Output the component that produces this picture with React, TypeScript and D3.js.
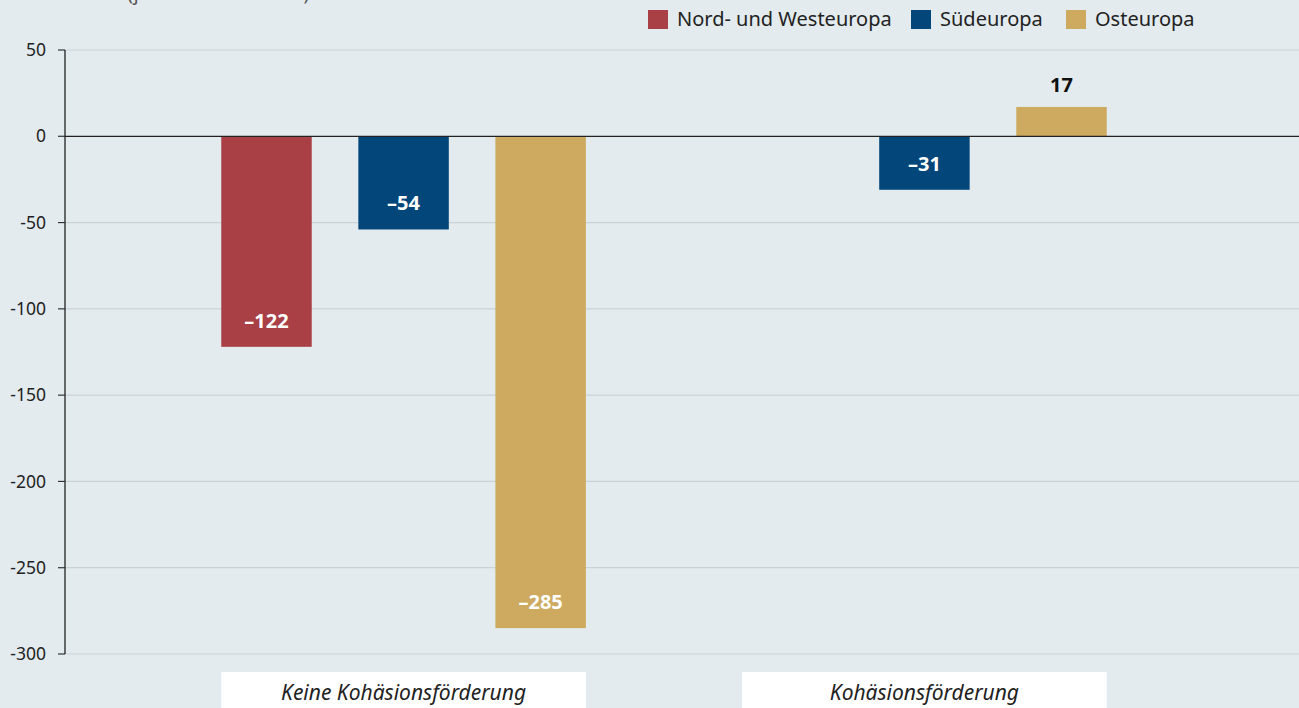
import React from 'react';
import * as d3 from 'd3';

// Categories and series
const groups = ['Keine Kohäsionsförderung', 'Kohäsionsförderung'];
const regions = ['Nord- und Westeuropa', 'Südeuropa', 'Osteuropa'];
const colors = ['#a84046', '#03467a', '#cdaa5f'];
// values per region, one per group (null = no bar)
const nordWest: (number | null)[] = [-122, null];
const sued: (number | null)[] = [-54, -31];
const ost: (number | null)[] = [-285, 17];
const seriesValues = [nordWest, sued, ost];
const yTicks = [50, 0, -50, -100, -150, -200, -250, -300];

const W = 1299;
const H = 708;
const margin = { left: 65, top: 50, bottom: 654 };

export default function App() {
  const y = d3.scaleLinear().domain([-300, 50]).range([margin.bottom, margin.top]);
  const x0 = d3.scaleBand<string>().domain(groups).range([margin.left, 1263]).paddingInner(0.3).paddingOuter(0.3);
  const x1 = d3.scaleBand<string>().domain(regions).range([0, x0.bandwidth()]).paddingInner(0.34).paddingOuter(0);

  const font = '"Noto Sans", "Open Sans", sans-serif';
  const legendX = [648, 911, 1066];

  return (
    <svg width={W} height={H} style={{ position: 'absolute', left: 0, top: 0, background: '#e3ebee' }} fontFamily={font}>
      <rect width={W} height={H} fill="#e3ebee" />
      {/* title, cut off at the top edge as in the source */}
      <text x={8} y={0} fontSize={19} fill="#555">Durchschnitt (je 1.000 Einwohner)</text>

      {/* legend */}
      {regions.map((r, i) => (
        <g key={r} transform={`translate(${legendX[i]},10)`}>
          <rect width={20} height={19} fill={colors[i]} />
          <text x={29} y={16} fontSize={20} fill="#222">{r}</text>
        </g>
      ))}

      {/* grid */}
      {yTicks.map(t => (
        <g key={t}>
          {t !== 0 && <line x1={margin.left} x2={W} y1={y(t)} y2={y(t)} stroke="#c9d3d7" strokeWidth={1.2} />}
          <line x1={58} x2={margin.left} y1={y(t)} y2={y(t)} stroke="#333" strokeWidth={1.2} />
          <text x={46} y={y(t)} dy="0.35em" textAnchor="end" fontSize={17.5} fill="#222">{t}</text>
        </g>
      ))}

      {/* bars */}
      {groups.map((g, gi) => (
        <g key={g} transform={`translate(${x0(g)},0)`}>
          {regions.map((r, ri) => {
            const v = seriesValues[ri][gi];
            if (v == null) return null;
            const bx = x1(r)!;
            const top = y(Math.max(0, v));
            const bottom = y(Math.min(0, v));
            return (
              <g key={r}>
                <rect x={bx} y={top} width={x1.bandwidth()} height={bottom - top} fill={colors[ri]} />
                {v < 0 ? (
                  <text x={bx + x1.bandwidth() / 2} y={bottom - 19} textAnchor="middle" fontSize={20} fontWeight={700} fill="#fff">
                    {'–' + Math.abs(v)}
                  </text>
                ) : (
                  <text x={bx + x1.bandwidth() / 2} y={top - 15} textAnchor="middle" fontSize={20} fontWeight={700} fill="#111">
                    {v}
                  </text>
                )}
              </g>
            );
          })}
          <rect x={0} y={672} width={x0.bandwidth()} height={50} fill="#fff" />
          <text x={x0.bandwidth() / 2} y={700} textAnchor="middle" fontSize={21} fontStyle="italic" fill="#222">{g}</text>
        </g>
      ))}

      {/* zero line and axis */}
      <line x1={margin.left} x2={W} y1={y(0)} y2={y(0)} stroke="#222" strokeWidth={1.3} />
      <line x1={margin.left} x2={margin.left} y1={y(50)} y2={y(-300)} stroke="#222" strokeWidth={1.3} />
    </svg>
  );
}
